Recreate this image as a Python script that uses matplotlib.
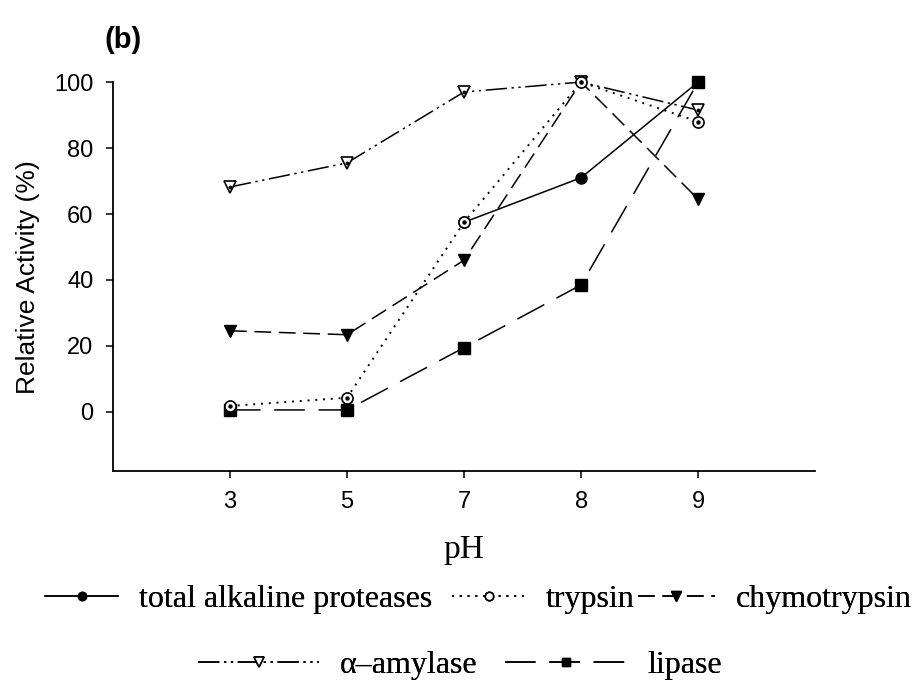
import matplotlib
matplotlib.use("Agg")
import matplotlib.pyplot as plt
import numpy as np

# pH values, drawn at equal spacing
ph = ["3", "5", "7", "8", "9"]

total_alk = [np.nan, np.nan, 57.5, 71.0, 100.0]
trypsin = [1.8, 4.3, 57.5, 100.0, 88.0]
chymo = [24.6, 23.4, 46.0, 100.0, 64.5]
amylase = [68.2, 75.5, 97.0, 100.0, 91.5]
lipase = [0.6, 0.6, 19.5, 38.5, 100.0]

labels = ["total alkaline proteases", "trypsin", "chymotrypsin",
          "\u03b1\u2013amylase", "lipase"]

sans = ["Liberation Sans", "DejaVu Sans"]
serif = ["Liberation Serif", "DejaVu Serif"]

W, H = 918, 684
fig = plt.figure(figsize=(W / 100, H / 100), dpi=100)
ax = fig.add_axes([0.123, 0.311, 0.765, 0.569])
x = np.arange(len(ph))

lw = 1.1
l_tot, = ax.plot(x, total_alk, color="black", lw=lw, ls="-", marker="o", ms=8,
                 mfc="black", mec="black", clip_on=False, zorder=3)
l_try, = ax.plot(x, trypsin, color="black", lw=1.4, ls=(0, (1, 3)), marker="o", ms=8,
                 mfc="white", mec="black", mew=1.2, clip_on=False, zorder=4)
ax.plot(x, trypsin, ls="none", marker="o", ms=2.2, color="black", clip_on=False, zorder=5)
l_chy, = ax.plot(x, chymo, color="black", lw=lw, ls=(0, (11, 5)), marker="v", ms=9,
                 mfc="black", mec="black", clip_on=False, zorder=3)
l_amy, = ax.plot(x, amylase, color="black", lw=lw, ls=(0, (14, 3, 1.5, 3, 1.5, 3)),
                 marker="v", ms=9, mfc="white", mec="black", mew=1.2, clip_on=False, zorder=3)
ax.plot(x, amylase, ls="none", marker="o", ms=1.8, color="black", clip_on=False, zorder=5)
l_lip, = ax.plot(x, lipase, color="black", lw=lw, ls=(0, (20, 9)), marker="s", ms=8,
                 mfc="black", mec="black", clip_on=False, zorder=3)

ax.set_xlim(-1, 5)
ax.set_ylim(-18, 100)
ax.set_xticks(x)
ax.set_xticklabels(ph)
ax.set_yticks([0, 20, 40, 60, 80, 100])
for s in ["top", "right"]:
    ax.spines[s].set_visible(False)
for s in ["left", "bottom"]:
    ax.spines[s].set_linewidth(1.3)
ax.tick_params(direction="out", length=5, width=1.1, labelsize=17, pad=9)
for t in ax.get_xticklabels() + ax.get_yticklabels():
    t.set_family(sans)

ax.set_ylabel("Relative Activity (%)", fontsize=19, family=sans, labelpad=10)
ax.set_xlabel("pH", fontsize=24, family=serif, labelpad=16)
fig.text(105 / W, 1 - 40 / H, "(b)", fontsize=21, fontweight="bold", family=sans,
         va="center")

# one legend per entry so every handle sits where it should
leg_font = {"family": serif, "size": 23}
entries = [
    (l_tot, labels[0], 45, 599, 2.3),
    (l_try, labels[1], 452, 599, 2.3),
    (l_chy, labels[2], 638, 599, 2.4),
    (l_amy, labels[3], 198, 665, 3.8),
    (l_lip, labels[4], 505, 665, 3.8),
]
for h, lab, px, py, hl in entries:
    leg = fig.legend([h], [lab], loc="center left",
                     bbox_to_anchor=(px / W, 1 - py / H), frameon=False,
                     prop=leg_font, borderpad=0, borderaxespad=0,
                     handlelength=hl, handletextpad=0.65, markerscale=0.75)
    fig.add_artist(leg)

fig.savefig("out.png", dpi=100)
